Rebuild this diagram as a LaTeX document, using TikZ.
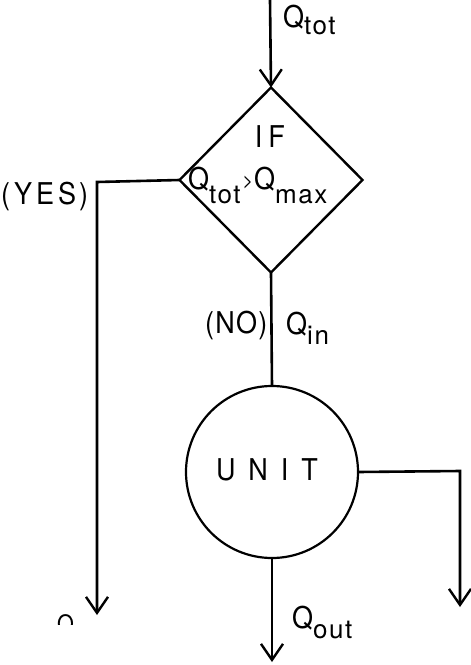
\documentclass[tikz,border=0pt]{standalone}
\usepackage{fontspec}
\setmainfont{TeX Gyre Heros}[LetterSpace=4,FakeStretch=0.9]
\newfontfamily\subfont{TeX Gyre Heros}[LetterSpace=6]
\usetikzlibrary{shapes.geometric,arrows.meta}
\newcommand{\subtxt}[2][10pt]{\raisebox{-#1}{\subfont\fontsize{26}{26}\selectfont #2}}
\tikzset{
  flow/.style={line width=2.6pt},
  arr/.style={flow,-{Straight Barb[length=16pt,width=22pt,line width=2.4pt]}},
  lbl/.style={inner sep=0pt,anchor=base west,font=\fontsize{30}{30}\selectfont},
  decide/.style={diamond,draw,line width=2.4pt,minimum width=183pt,minimum height=185pt,inner sep=0pt,outer sep=0pt},
  unitbox/.style={circle,draw,line width=2.2pt,minimum size=172pt,inner sep=0pt,outer sep=0pt}
}
\begin{document}
\begin{tikzpicture}[x=1pt,y=-1pt]
\useasboundingbox (0,0) rectangle (471,665);
% shapes
\node[decide] (dec) at (271,180) {};
\node[unitbox] (unit) at (272,472) {};
% coordinates
\coordinate (topin) at (270,0);
\coordinate (yescorner) at (97,182);
\coordinate (yesend) at (97,615);
\coordinate (rcorner) at (460,471);
\coordinate (rend) at (460,607);
\coordinate (outend) at (272,662);
% connectors
\draw[arr] (topin) -- (dec.north);
\draw[flow] (dec.south) -- (unit.north);
\draw[arr] (dec.west) -- (yescorner) -- (yesend);
\draw[arr] (unit.east) -- (rcorner) -- (rend);
\draw[arr] (unit.south) -- (outend);
% labels
\node[lbl] (qtot) at (283,27) {Q\subtxt[7pt]{tot}};
\node[inner sep=0pt,anchor=base,font=\fontsize{30}{30}\selectfont] (iflbl) at (270,147) {I\hspace{6pt}F};
\node[lbl] (cond) at (188,189) {Q\subtxt[14pt]{tot}\hspace{2pt}\raisebox{2pt}{\fontsize{20}{20}\selectfont >}\hspace{1pt}Q\subtxt[14pt]{max}};
\node[lbl] (yes) at (1,204) {(\hspace{4pt}Y\hspace{4pt}E\hspace{4pt}S\hspace{3pt})};
\node[lbl] (no) at (205,333) {(NO)};
\node[lbl] (qin) at (286,334) {Q\subtxt{in}};
\node[inner sep=0pt,anchor=base,font=\fontsize{30}{30}\selectfont] (unitlbl) at (267,480) {U\hspace{13pt}N\hspace{13pt}I\hspace{13pt}T};
\node[lbl] (qout) at (292,628) {Q\subtxt{out}};
\begin{scope}
\clip (50,600) rectangle (85,624);
\node[lbl,font=\fontsize{24}{24}\selectfont] (qcut) at (57,632) {Q};
\end{scope}
\end{tikzpicture}
\end{document}
